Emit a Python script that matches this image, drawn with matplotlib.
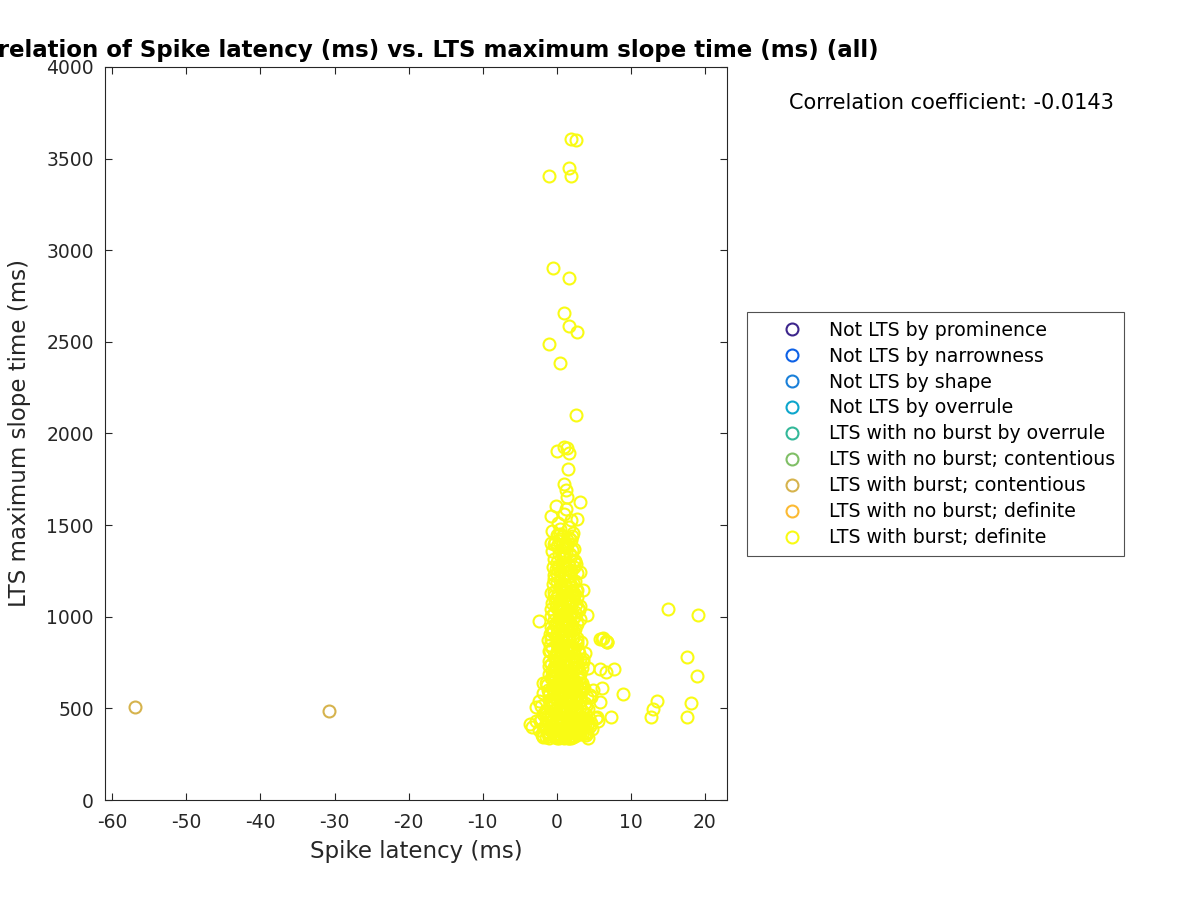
import matplotlib
matplotlib.use("Agg")
import matplotlib.pyplot as plt

# ---------------- data ----------------
categories = [
    "Not LTS by prominence",
    "Not LTS by narrowness",
    "Not LTS by shape",
    "Not LTS by overrule",
    "LTS with no burst by overrule",
    "LTS with no burst; contentious",
    "LTS with burst; contentious",
    "LTS with no burst; definite",
    "LTS with burst; definite",
]
colors = [
    (0.24, 0.15, 0.55),
    (0.05, 0.38, 0.90),
    (0.10, 0.50, 0.85),
    (0.05, 0.65, 0.80),
    (0.20, 0.72, 0.60),
    (0.50, 0.75, 0.40),
    (0.84, 0.70, 0.30),
    (0.99, 0.73, 0.20),
    (0.976, 0.984, 0.078),
]

# LTS with burst; contentious
contentious_x = [-57.0, -30.8]
contentious_y = [508, 486]

# LTS with burst; definite
burst_x = [
    # y 335-460
    -2.4, -1.9, -1.5, -1.1, -0.7, -0.3, 0.1, 0.5, 0.9, 1.3, 1.7, 2.1, 2.5, 2.9, 3.3, 3.7, 4.1, 4.5,
    -2.2, -1.7, -1.2, -0.8, -0.4, 0.0, 0.4, 0.8, 1.2, 1.6, 2.0, 2.4, 2.8, 3.2, 3.6, 4.0, 4.4, 4.8,
    -2.0, -1.4, -0.9, -0.5, -0.1, 0.3, 0.7, 1.1, 1.5, 1.9, 2.3, 2.7, 3.1, 3.5, 3.9, 4.3,
    -1.6, -1.0, -0.6, -0.2, 0.2, 0.6, 1.0, 1.4, 1.8, 2.2, 2.6, 3.0, 3.4, 3.8,
    -1.3, -0.8, 0.0, 0.5, 1.0, 1.5, 2.0, 2.5, 3.0, 3.5,
    -3.6, -3.3, -2.8, -0.1, 0.7, 1.3, 1.9, 5.3, 5.6, 4.6, 0.3, 1.6,
    -1.8, -1.2, -0.6, 0.0, 0.6, 1.2, 1.8, 2.4, 3.0, 3.6,
    -2.1, -1.4, -0.3, 0.4, 1.0, 1.6, 2.2, 2.8, 3.4, 4.2,
    # y 460-650
    -2.1, -1.6, -1.1, -0.7, -0.3, 0.1, 0.5, 0.9, 1.3, 1.7, 2.1, 2.5, 2.9, 3.3, 3.7, 4.2,
    -1.8, -1.3, -0.9, -0.5, -0.1, 0.3, 0.7, 1.1, 1.5, 1.9, 2.3, 2.7, 3.1, 3.5, 4.0, 4.5,
    -1.4, -1.0, -0.6, -0.2, 0.2, 0.6, 1.0, 1.4, 1.8, 2.2, 2.6, 3.0, 3.4, 3.8,
    -1.2, -0.8, -0.4, 0.0, 0.4, 0.8, 1.2, 1.6, 2.0, 2.4, 2.8, 3.2, 3.6,
    -0.5, 0.1, 0.7, 1.3, 1.9, 2.5, 3.1,
    -2.4, -1.9, 0.0, 1.0, 1.8, 2.6, 4.7, 5.4, 5.9, 6.1, 4.9, -2.8,
    -1.5, -0.9, -0.3, 0.3, 0.9, 1.5, 2.1, 2.7, 3.3, 3.9, -1.1, -0.4,
    0.5, 1.2, 1.9, 2.6, 3.4, 4.1, -0.8, 0.0, 0.8, 1.6, 2.4, 3.2,
    # y 650-900
    -1.1, -0.7, -0.3, 0.1, 0.5, 0.9, 1.3, 1.7, 2.1, 2.5, 2.9, 3.3,
    -0.9, -0.5, -0.1, 0.3, 0.7, 1.1, 1.5, 1.9, 2.3, 2.7, 3.1, 3.5,
    -1.0, -0.6, -0.2, 0.2, 0.6, 1.0, 1.4, 1.8, 2.2, 2.6, 3.0,
    -0.8, -0.4, 0.0, 0.4, 0.8, 1.2, 1.6, 2.0, 2.4, 2.8, 3.2,
    -0.3, 0.3, 0.9, 1.5, 2.1, 2.7,
    0.0, 0.6, 1.2, 1.8, 2.4,
    -1.9, -1.1, -1.2, 3.8, 4.2, 3.6, 5.8, 6.6, 6.2, 6.8,
    -0.6, -0.2, 0.2, 0.6, 1.0, 1.4, 1.8, 2.2, 2.6, 3.0,
    -0.9, -0.4, 0.0, 0.5, 0.9, 1.3, 1.7, 2.1, 2.5, 2.9,
    -0.7, -0.1, 0.4, 0.8, 1.2, 1.6, 2.0, 2.4, 2.8, 3.4,
    -0.5, 0.1, 0.7, 1.1, 1.5, 1.9, 2.3, 2.7, -1.0, 3.1,
    # y 900-1150
    -0.8, -0.4, 0.0, 0.4, 0.8, 1.2, 1.6, 2.0, 2.4, 2.8,
    -0.6, -0.2, 0.2, 0.6, 1.0, 1.4, 1.8, 2.2, 2.6, 3.0,
    -0.7, -0.3, 0.1, 0.5, 0.9, 1.3, 1.7, 2.1, 2.5,
    -0.1, 0.7, 1.5, 2.3,
    0.3, 1.1, 1.9,
    -2.4, 4.05, 3.5, 3.2, -0.9,
    -0.7, -0.3, 0.1, 0.5, 0.9, 1.3, 1.7, 2.1, 2.5, 2.9,
    -0.5, -0.1, 0.3, 0.7, 1.1, 1.5, 1.9, 2.3, 2.7, -0.8,
    -0.4, 0.0, 0.4, 0.8, 1.2, 1.6, 2.0, 2.4, 2.8, -0.6,
    -0.2, 0.2, 0.6, 1.0, 1.4, 1.8, 2.2, 2.6, 3.1, 1.2,
    # y 1150-1450
    -0.5, -0.1, 0.3, 0.7, 1.1, 1.5, 1.9, 2.3, 2.7,
    -0.3, 0.1, 0.5, 0.9, 1.3, 1.7, 2.1, 2.5,
    -0.4, 0.0, 0.4, 0.8, 1.2, 1.6, 2.0, 2.4,
    0.2, 1.0, 1.8, 0.6, 1.4,
    3.2, -0.7,
    -0.4, 0.0, 0.4, 0.8, 1.2, 1.6, 2.0, 2.4, -0.6, -0.2,
    0.2, 0.6, 1.0, 1.4, 1.8, 2.2, 2.6, -0.3, 0.1, 0.5,
    0.9, 1.3, 1.7, 2.1, 2.5, -0.5, 0.3, 0.7, 1.1, 1.5,
    1.9, 0.0, 1.0, 2.0, 0.5,
    # y 1450-1950
    -0.6, 0.2, 1.0, 1.6, 2.0, -0.05, -0.8, 1.3, 1.4, 1.0,
    1.5, 1.6, 1.0, 1.4, 0.1, 2.8, 3.1, 0.5, 1.2, 2.2,
    # upper outliers
    2.6, 2.7, 1.6, 1.0, -1.1, 0.4, -0.5, 1.6, -1.0, 1.9, 1.6, 1.9, 2.6,
    # right outliers
    15.0, 19.05, 17.6, 19.0, 18.1, 17.6, 13.6, 13.05, 12.8, 8.9, 7.4, 7.7, 6.6, 5.8, 6.1, 6.8,
]
burst_y = [
    # y 335-460
    380, 352, 405, 340, 428, 362, 395, 345, 418, 356, 440, 372, 348, 410, 385, 436, 365, 402,
    432, 398, 360, 447, 376, 341, 422, 368, 451, 383, 344, 415, 392, 358, 430, 370, 449, 388,
    355, 440, 386, 412, 350, 458, 374, 396, 338, 427, 364, 445, 379, 408, 353, 420,
    402, 366, 434, 343, 455, 390, 357, 425, 372, 347, 438, 381, 359, 417,
    446, 377, 362, 424, 339, 406, 452, 367, 393, 431,
    415, 398, 430, 348, 372, 355, 340, 445, 430, 420, 336, 338,
    345, 372, 398, 425, 350, 380, 410, 440, 365, 395,
    440, 342, 376, 408, 360, 430, 345, 390, 450, 340,
    # y 460-650
    512, 478, 590, 534, 625, 468, 556, 601, 489, 640, 521, 575, 463, 548, 612, 497,
    584, 630, 503, 566, 472, 618, 539, 594, 465, 527, 645, 481, 560, 606, 515, 572,
    470, 548, 610, 492, 578, 635, 508, 562, 476, 621, 544, 599, 485, 530,
    598, 466, 541, 625, 506, 583, 474, 557, 640, 495, 569, 615, 482,
    530, 592, 468, 615, 552, 500, 638,
    540, 470, 630, 585, 508, 612, 560, 453, 535, 611, 600, 505,
    640, 520, 600, 485, 575, 630, 505, 545, 590, 470, 575, 490,
    625, 515, 600, 480, 640, 560, 465, 545, 490, 570, 620, 510,
    # y 650-900
    690, 742, 668, 815, 760, 872, 705, 838, 655, 788, 725, 860,
    812, 676, 890, 735, 660, 795, 848, 710, 770, 883, 688, 752,
    758, 830, 702, 865, 680, 745, 812, 662, 890, 728, 800,
    665, 780, 852, 718, 895, 752, 678, 822, 740, 868, 695,
    725, 855, 790, 670, 835, 765,
    880, 700, 760, 820, 655,
    640, 731, 873, 800, 720, 770, 880, 870, 885, 860,
    705, 780, 840, 672, 735, 810, 698, 885, 752, 662,
    845, 716, 790, 658, 828, 770, 895, 684, 742, 818,
    878, 752, 690, 862, 728, 660, 805, 742, 850, 720,
    668, 858, 788, 700, 880, 746, 822, 675, 812, 770,
    # y 900-1150
    945, 1020, 910, 1090, 975, 1135, 930, 1060, 1000, 1110,
    1075, 960, 1125, 915, 1045, 990, 1140, 925, 1070, 1035,
    1005, 1115, 940, 1065, 1148, 920, 1085, 955, 1025,
    1100, 1010, 960, 1130,
    1050, 970, 1080,
    977, 1009, 1146, 1060, 905,
    1130, 980, 1065, 1010, 905, 1095, 975, 1140, 935, 1050,
    915, 1055, 995, 1120, 1025, 950, 1080, 1000, 1145, 1040,
    1135, 970, 1030, 1150, 1015, 1105, 930, 1115, 960, 920,
    1085, 1045, 965, 1110, 1030, 1010, 1090, 1145, 985, 1005,
    # y 1150-1450
    1180, 1260, 1340, 1210, 1400, 1290, 1165, 1370, 1240,
    1315, 1190, 1425, 1275, 1350, 1225, 1440, 1305,
    1395, 1235, 1160, 1300, 1380, 1200, 1330, 1270,
    1445, 1330, 1255, 1170, 1420,
    1244, 1400,
    1230, 1385, 1195, 1320, 1265, 1430, 1175, 1310, 1360, 1410,
    1275, 1155, 1215, 1390, 1340, 1185, 1290, 1205, 1300, 1250,
    1440, 1170, 1285, 1365, 1195, 1270, 1415, 1345, 1325, 1240,
    1420, 1445, 1380, 1250, 1450,
    # y 1450-1950
    1470, 1510, 1560, 1490, 1530, 1604, 1550, 1692, 1654, 1724,
    1806, 1894, 1926, 1921, 1905, 1533, 1626, 1480, 1590, 1455,
    # upper outliers
    2101, 2554, 2587, 2658, 2488, 2385, 2903, 2849, 3405, 3405, 3449, 3607, 3602,
    # right outliers
    1042, 1009, 780, 678, 531, 453, 540, 497, 453, 578, 453, 715, 698, 715, 880, 860,
]

series_x = [[], [], [], [], [], [], contentious_x, [], burst_x]
series_y = [[], [], [], [], [], [], contentious_y, [], burst_y]

corr_text = "Correlation coefficient: -0.0143"
title = "Correlation of Spike latency (ms) vs. LTS maximum slope time (ms) (all)"
xlabel = "Spike latency (ms)"
ylabel = "LTS maximum slope time (ms)"
xticks = [-60, -50, -40, -30, -20, -10, 0, 10, 20]
yticks = [0, 500, 1000, 1500, 2000, 2500, 3000, 3500, 4000]

# ---------------- plot ----------------
plt.rcParams["font.family"] = ["DejaVu Sans"]
plt.rcParams["axes.unicode_minus"] = False
txt = (0.15, 0.15, 0.15)

fig = plt.figure(figsize=(12, 9), dpi=100)
ax = fig.add_axes([0.0875, 0.1111, 0.5183, 0.8145])

handles = []
for lab, col, xs, ys in zip(categories, colors, series_x, series_y):
    h, = ax.plot(xs, ys, linestyle="none", marker="o", markersize=8.6,
                 markerfacecolor="none", markeredgecolor=col, markeredgewidth=1.5,
                 label=lab)
    handles.append(h)

ax.set_xlim(-61, 23)
ax.set_ylim(0, 4000)
ax.set_xticks(xticks)
ax.set_yticks(yticks)
ax.tick_params(direction="in", top=True, right=True, length=5, width=0.8,
               labelsize=13.5, colors=txt, labelcolor=txt)
ax.tick_params(axis="x", pad=9)
ax.tick_params(axis="y", pad=8)
for s in ax.spines.values():
    s.set_color(txt)
    s.set_linewidth(0.8)

ax.set_xlabel(xlabel, fontsize=16.5, color=txt, labelpad=6)
ax.set_ylabel(ylabel, fontsize=16.5, color=txt, labelpad=11)
ax.set_title(title, fontsize=16.5, fontweight="bold", color="black", pad=7)

fig.text(0.7929, 0.8856, corr_text, fontsize=15, color="black",
         ha="center", va="center")

leg = fig.legend(handles=handles, labels=categories, loc="upper left",
                 bbox_to_anchor=(0.6225, 0.6533), bbox_transform=fig.transFigure,
                 fontsize=13.6, frameon=True, fancybox=False, borderpad=0.45,
                 labelspacing=0.37, handlelength=3.86, handletextpad=0.05,
                 borderaxespad=0.0)
leg.get_frame().set_edgecolor(txt)
leg.get_frame().set_linewidth(0.8)

fig.savefig("out.png", dpi=100)
